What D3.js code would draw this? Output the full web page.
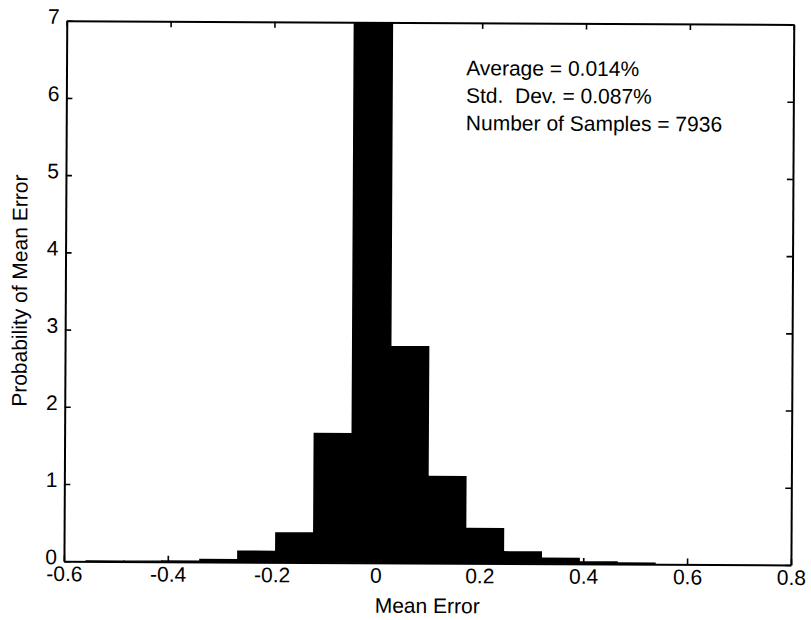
<!DOCTYPE html>
<html>
<head>
<meta charset="utf-8">
<script src="https://cdn.jsdelivr.net/npm/d3@7"></script>
<style>
  html, body { margin: 0; padding: 0; background: #fff; }
  svg { display: block; }
  text { font-family: "Liberation Sans", Arial, sans-serif; fill: #000; }
</style>
</head>
<body>
<div id="chart"></div>
<script>
// ---- data ----
const binEdges = [-0.557, -0.484, -0.411, -0.338, -0.265, -0.192, -0.119, -0.046,
                  0.027, 0.100, 0.173, 0.246, 0.319, 0.392, 0.465, 0.538];
const probability = [0.003, 0.004, 0.008, 0.03, 0.14, 0.38, 1.67, 7.6,
                     2.80, 1.12, 0.45, 0.15, 0.07, 0.025, 0.012];
const xTicks = [-0.6, -0.4, -0.2, 0, 0.2, 0.4, 0.6, 0.8];
const xTickLabels = ["-0.6", "-0.4", "-0.2", "0", "0.2", "0.4", "0.6", "0.8"];
const yTicks = [0, 1, 2, 3, 4, 5, 6, 7];
const yTickLabels = ["0", "1", "2", "3", "4", "5", "6", "7"];
const statsLines = ["Average = 0.014%", "Std.  Dev. = 0.087%", "Number of Samples = 7936"];
const xLabel = "Mean Error";
const yLabel = "Probability of Mean Error";

// ---- layout ----
const W = 811, H = 620;
const L = 65.35, R = 792.35, T = 22.6, B = 563.1;
const FS = 21;

const svg = d3.select("#chart").append("svg").attr("width", W).attr("height", H);
svg.append("rect").attr("width", W).attr("height", H).attr("fill", "#fff");

const g = svg.append("g").attr("transform", "rotate(0.3, 429, 293)");

const x = d3.scaleLinear().domain([-0.6, 0.8]).range([L, R]);
const y = d3.scaleLinear().domain([0, 7]).range([B, T]);

g.append("clipPath").attr("id", "plotclip")
  .append("rect").attr("x", L).attr("y", T).attr("width", R - L).attr("height", B - T);

const bins = probability.map((p, i) => ({ x0: binEdges[i], x1: binEdges[i + 1], p }));

g.append("g").attr("clip-path", "url(#plotclip)")
  .selectAll("rect").data(bins).join("rect")
  .attr("x", d => x(d.x0))
  .attr("width", d => x(d.x1) - x(d.x0))
  .attr("y", d => y(d.p))
  .attr("height", d => y(0) - y(d.p))
  .attr("fill", "#000")
  .attr("stroke", "#000")
  .attr("stroke-width", 1.6);

// axes
const tickLen = 6;
const xAxis = d3.axisBottom(x).tickValues(xTicks)
  .tickFormat((d, i) => xTickLabels[i]).tickSizeInner(-tickLen).tickSizeOuter(0).tickPadding(5);
const xAxisTop = d3.axisTop(x).tickValues(xTicks)
  .tickFormat("").tickSizeInner(-tickLen).tickSizeOuter(0);
const yAxis = d3.axisLeft(y).tickValues(yTicks)
  .tickFormat((d, i) => yTickLabels[i]).tickSizeInner(-tickLen).tickSizeOuter(0).tickPadding(7);
const yAxisRight = d3.axisRight(y).tickValues(yTicks)
  .tickFormat("").tickSizeInner(-tickLen).tickSizeOuter(0);

function styleAxis(sel) {
  sel.select(".domain").attr("stroke", "#000").attr("stroke-width", 2);
  sel.selectAll(".tick line").attr("stroke", "#000").attr("stroke-width", 1.6);
  sel.selectAll(".tick text").attr("font-size", FS)
    .attr("font-family", "'Liberation Sans', Arial, sans-serif").attr("fill", "#000");
}

g.append("g").attr("transform", `translate(0,${B})`).call(xAxis).call(styleAxis);
g.append("g").attr("transform", `translate(0,${T})`).call(xAxisTop).call(styleAxis);
const ya = g.append("g").attr("transform", `translate(${L},0)`).call(yAxis).call(styleAxis);
ya.selectAll(".tick text").attr("dy", "0.13em");
g.append("g").attr("transform", `translate(${R},0)`).call(yAxisRight).call(styleAxis);

// axis labels
g.append("text").attr("x", (L + R) / 2).attr("y", 613)
  .attr("text-anchor", "middle").attr("font-size", FS).text(xLabel);
g.append("text")
  .attr("transform", `translate(27,${(T + B) / 2}) rotate(-90)`)
  .attr("text-anchor", "middle").attr("font-size", FS).text(yLabel);

// stats annotation
g.append("g").selectAll("text").data(statsLines).join("text")
  .attr("x", 465)
  .attr("y", (d, i) => 75 + i * 27.5)
  .attr("font-size", FS)
  .attr("xml:space", "preserve")
  .style("white-space", "pre")
  .text(d => d);
</script>
</body>
</html>
